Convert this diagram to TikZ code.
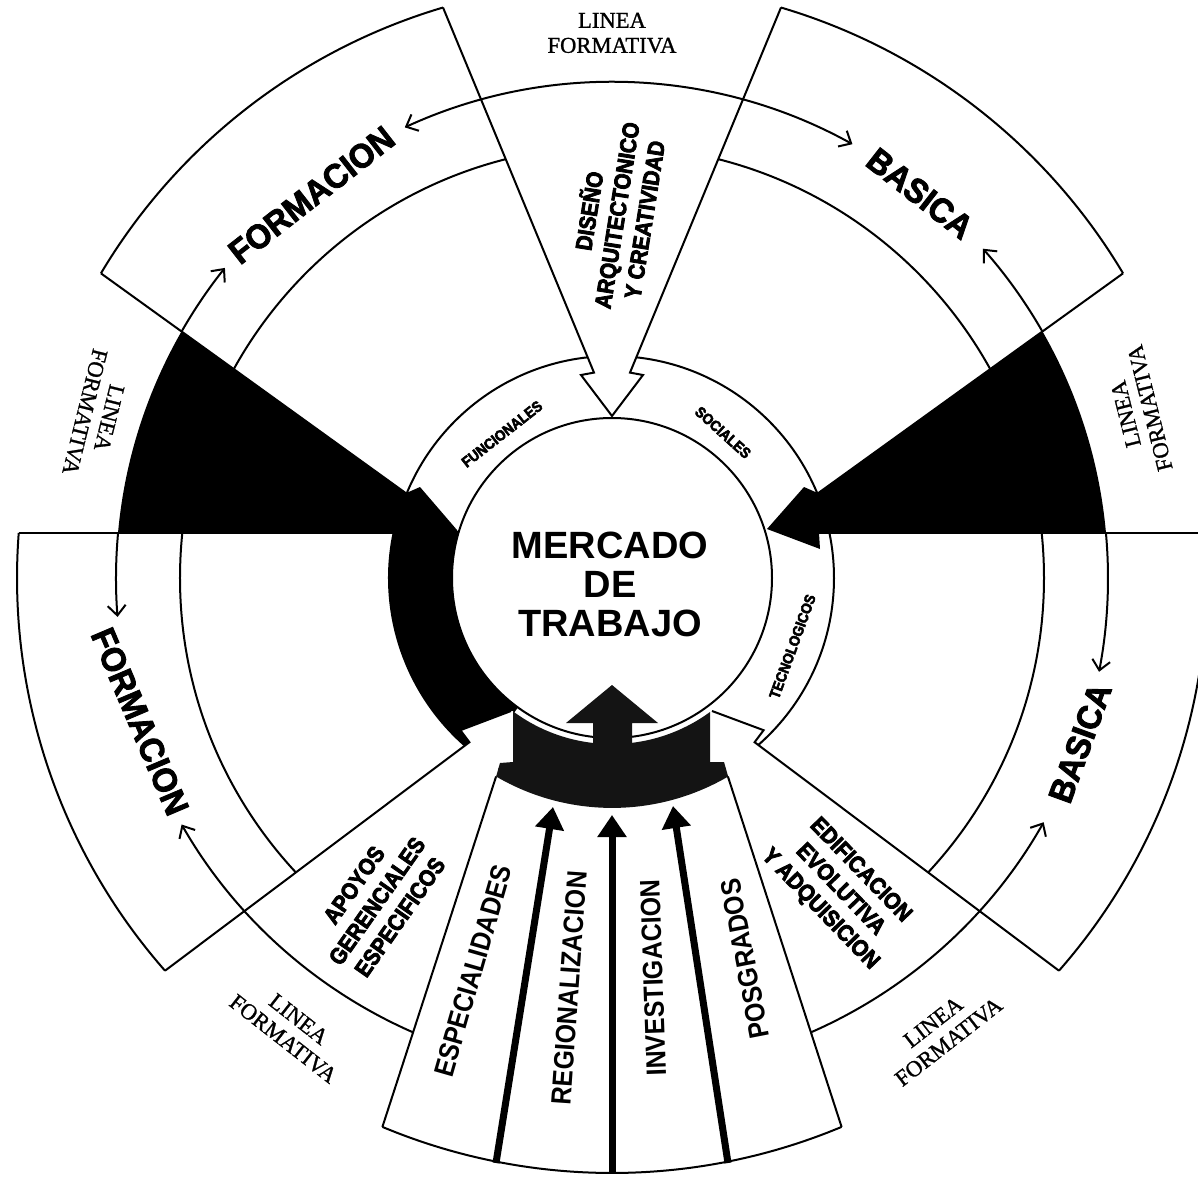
\documentclass[tikz,border=0pt]{standalone}
\usepackage{fontspec}
\setmainfont{Liberation Serif}[FakeBold=1]
\newfontfamily\plainsans{Liberation Sans}
\newfontfamily\heavysans[FakeStretch=0.95,FakeBold=2.5]{Liberation Sans}
\newfontfamily\blobsans[FakeStretch=0.9,FakeBold=3.5]{Liberation Sans}
\newfontfamily\narrowsans[FakeStretch=0.89]{Liberation Sans}
\usetikzlibrary{arrows.meta}

\begin{document}
\begin{tikzpicture}[x=0.5pt,y=0.5pt,line width=1pt,line join=miter,
  flow/.style={line width=1pt,-{Straight Barb[length=5pt,width=9pt]}},
  flowboth/.style={line width=1pt,{Straight Barb[length=5pt,width=9pt]}-{Straight Barb[length=5pt,width=9pt]}},
  thrust/.style={line width=3.5pt,-{Triangle[length=11pt,width=14pt]}},
  dark/.style={fill=black!92},
  lf/.style={font=\fontsize{11.3}{12.5}\selectfont,align=center,inner sep=0pt},
  bigword/.style={font=\heavysans\bfseries\fontsize{17}{17}\selectfont,inner sep=0pt},
  blocktxt/.style={font=\blobsans\bfseries\fontsize{11.5}{14}\selectfont,align=center,inner sep=0pt},
  ringtxt/.style={font=\blobsans\bfseries\fontsize{7.5}{8}\selectfont,inner sep=0pt},
  bottxt/.style={font=\narrowsans\bfseries\fontsize{14}{14}\selectfont,inner sep=0pt},
  core/.style={font=\plainsans\bfseries\fontsize{19}{19.5}\selectfont,align=center,inner sep=0pt}]

% page frame
\useasboundingbox (-612,-606) rectangle (586,578);
\clip (-612,-606) rectangle (586,578);
\fill[white] (-612,-606) rectangle (586,578);

% top arrow
\coordinate (Ttop) at (0,162);
\coordinate (Ptl) at (106.5:595);
\coordinate (Ptr) at (73.5:595);
\coordinate (Qtl) at (-18,205.4);
\coordinate (Btl) at (-31,203);
\coordinate (Qtr) at (18,205.4);
\coordinate (Btr) at (31,203);
% black side arrows
\coordinate (Pul) at (149.2:595);
\coordinate (Pur) at (30.8:595);
\coordinate (TL) at (-155,48);
\coordinate (QL) at (-206.1,84.8);
\coordinate (BL) at (-192,91);
\coordinate (TR) at (155,49);
\coordinate (QR) at (206.1,84.8);
\coordinate (BR) at (192,91);
\coordinate (BRlow) at (208,29);
\coordinate (BRlowb) at (207,45);
\coordinate (Pll) at (-593.3,45);
\coordinate (Prr) at (593.3,45);
% lower white arrows
\coordinate (Pbl) at (221.3:595);
\coordinate (Qbl) at (-142.6,-164.2);
\coordinate (Bbl) at (-151.6,-152.2);
\coordinate (Tbl) at (-101,-133);
\coordinate (Pbr) at (-41.3:595);
\coordinate (Qbr) at (142.6,-164.2);
\coordinate (Bbr) at (151.6,-152.2);
\coordinate (Tbr) at (100,-133);
% bottom sector
\coordinate (Pbsl) at (247.3:595);
\coordinate (Pbsr) at (292.7:595);
\coordinate (Ebsl) at (-115.9,-198.5);
\coordinate (Ebsr) at (115.9,-198.5);

% guide circles
\draw (0,0) circle (432);
\draw (0,0) circle (222);

% black wedges and left band
\begin{scope}
  \clip (0,0) circle (496);
  \fill (Pul) -- (QL) -- (BL) -- (TL) -- (-155,45) -- (Pll) -- cycle;
  \fill (Pur) -- (QR) -- (BR) -- (TR) -- (BRlow) -- (BRlowb) -- (Prr) -- cycle;
\end{scope}
\fill (163:160) arc[start angle=163,end angle=234,radius=160]
      -- (234:224) arc[start angle=234,end angle=163,radius=224] -- cycle;

% white arrow bodies
\fill[white] (Ptl) -- (Qtl) -- (Btl) -- (Ttop) -- (Btr) -- (Qtr) -- (Ptr) -- cycle;
\fill[white] (Pbl) -- (Qbl) -- (Bbl) -- (Tbl) -- (-99,-133.2) -- (-99,-184) -- (-112,-185)
      -- (Ebsl) -- (Pbsl) -- cycle;
\fill[white] (Pbr) -- (Qbr) -- (Bbr) -- (Tbr) -- (98,-134) -- (98,-184) -- (112,-184)
      -- (Ebsr) -- (Pbsr) -- cycle;
\fill[white] (Pbsl) -- (Ebsl) -- (Ebsr) -- (Pbsr)
      arc[start angle=-67.3,end angle=-112.7,radius=595] -- cycle;

% bottom dark band
\fill[dark] (-99,-133.2) -- (-99,-184) -- (-112,-185) -- (Ebsl)
      arc[start angle=239.7,end angle=300.3,radius=230]
      -- (112,-184) -- (98,-184) -- (98,-134)
      arc[start angle=-53.8,end angle=-126.6,radius=166] -- cycle;

% outlines of arrows and boxes
\draw (Ptl) -- (Qtl) -- (Btl) -- (Ttop) -- (Btr) -- (Qtr) -- (Ptr);
\draw (Pul) -- (QL);
\draw (Pll) -- (-160,45);
\draw (Pur) -- (QR);
\draw (Prr) -- (BRlowb);
\draw (Pbl) -- (Qbl) -- (Bbl) -- (Tbl);
\draw (Pbr) -- (Qbr) -- (Bbr) -- (Tbr);
\draw (Pbsl) -- (Ebsl);
\draw (Pbsr) -- (Ebsr);
\draw (149.2:595) arc[start angle=149.2,end angle=106.5,radius=595];
\draw (73.5:595) arc[start angle=73.5,end angle=30.8,radius=595];
\draw (4.34:595) arc[start angle=4.34,end angle=-41.3,radius=595];
\draw (175.66:595) arc[start angle=175.66,end angle=221.3,radius=595];
\draw (247.3:595) arc[start angle=247.3,end angle=292.7,radius=595];

% central circle and rising arrow
\draw[fill=white] (0,0) circle (160);
\fill[dark] (0,-107) -- (46,-145) -- (20,-145) -- (20,-168) -- (-19,-168)
      -- (-19,-145) -- (-46,-145) -- cycle;

% flow arcs of the training lines
\draw[flowboth] (114.7:496) arc[start angle=114.7,end angle=61,radius=496];
\draw[flow] (150.2:496) arc[start angle=150.2,end angle=141.3,radius=496];
\draw[flow] (29.8:496) arc[start angle=29.8,end angle=41.6,radius=496];
\draw[flow] (5.2:496) arc[start angle=5.2,end angle=-10.9,radius=496];
\draw[flow] (-66.35:496) arc[start angle=-66.35,end angle=-29.5,radius=496];
\draw[flow] (174.8:496) arc[start angle=174.8,end angle=184.5,radius=496];
\draw[flow] (246.35:496) arc[start angle=246.35,end angle=209.8,radius=496];

% thrust arrows of the bottom sector
\coordinate (s1) at (-116,-585);
\coordinate (e1) at (-59,-229);
\coordinate (s2) at (0,-595);
\coordinate (e2) at (0,-237);
\coordinate (s3) at (116,-585);
\coordinate (e3) at (61,-228);
\draw[thrust] (s1) -- (e1);
\draw[thrust] (s2) -- (e2);
\draw[thrust] (s3) -- (e3);

% texts
\node[core] (mercado) at (-2,-6) {MERCADO\\DE\\TRABAJO};
\node[bigword,rotate=38] (formTL) at (-300.5,383) {FORMACION};
\node[bigword,rotate=-38] (basTR) at (308,384.5) {BASICA};
\node[bigword,rotate=70] (basR) at (468,-165) {BASICA};
\node[bigword,rotate=-67] (formL) at (-472,-143.5) {FORMACION};
\node[blocktxt,rotate=81] (diseno) at (3,363) {DISEÑO\\ARQUITECTONICO\\Y CREATIVIDAD};
\node[blocktxt,rotate=55] (apoyos) at (-235,-323) {APOYOS\\GERENCIALES\\ESPECIFICOS};
\node[blocktxt,rotate=-46] (edif) at (228,-312) {EDIFICACION\\EVOLUTIVA\\Y ADQUISICION};
\node[ringtxt,rotate=38] (ringA) at (-110,144) {FUNCIONALES};
\node[ringtxt,rotate=-42] (ringB) at (111,145.5) {SOCIALES};
\node[ringtxt,rotate=70] (ringC) at (180.5,-68.5) {TECNOLOGICOS};
\node[bottxt,rotate=74] (esp) at (-139,-393) {ESPECIALIDADES};
\node[bottxt,rotate=86] (reg) at (-43,-410) {REGIONALIZACION};
\node[bottxt,rotate=92] (inv) at (41,-400) {INVESTIGACION};
\node[bottxt,rotate=101] (pos) at (133,-381) {POSGRADOS};
\node[lf] (lfT) at (0,545) {LINEA\\FORMATIVA};
\node[lf,rotate=-104] (lfL) at (-515,163) {LINEA\\FORMATIVA};
\node[lf,rotate=104] (lfR) at (526,167) {LINEA\\FORMATIVA};
\node[lf,rotate=-38] (lfBL) at (-321,-451) {LINEA\\FORMATIVA};
\node[lf,rotate=38] (lfBR) at (329,-454) {LINEA\\FORMATIVA};
\end{tikzpicture}
\end{document}
